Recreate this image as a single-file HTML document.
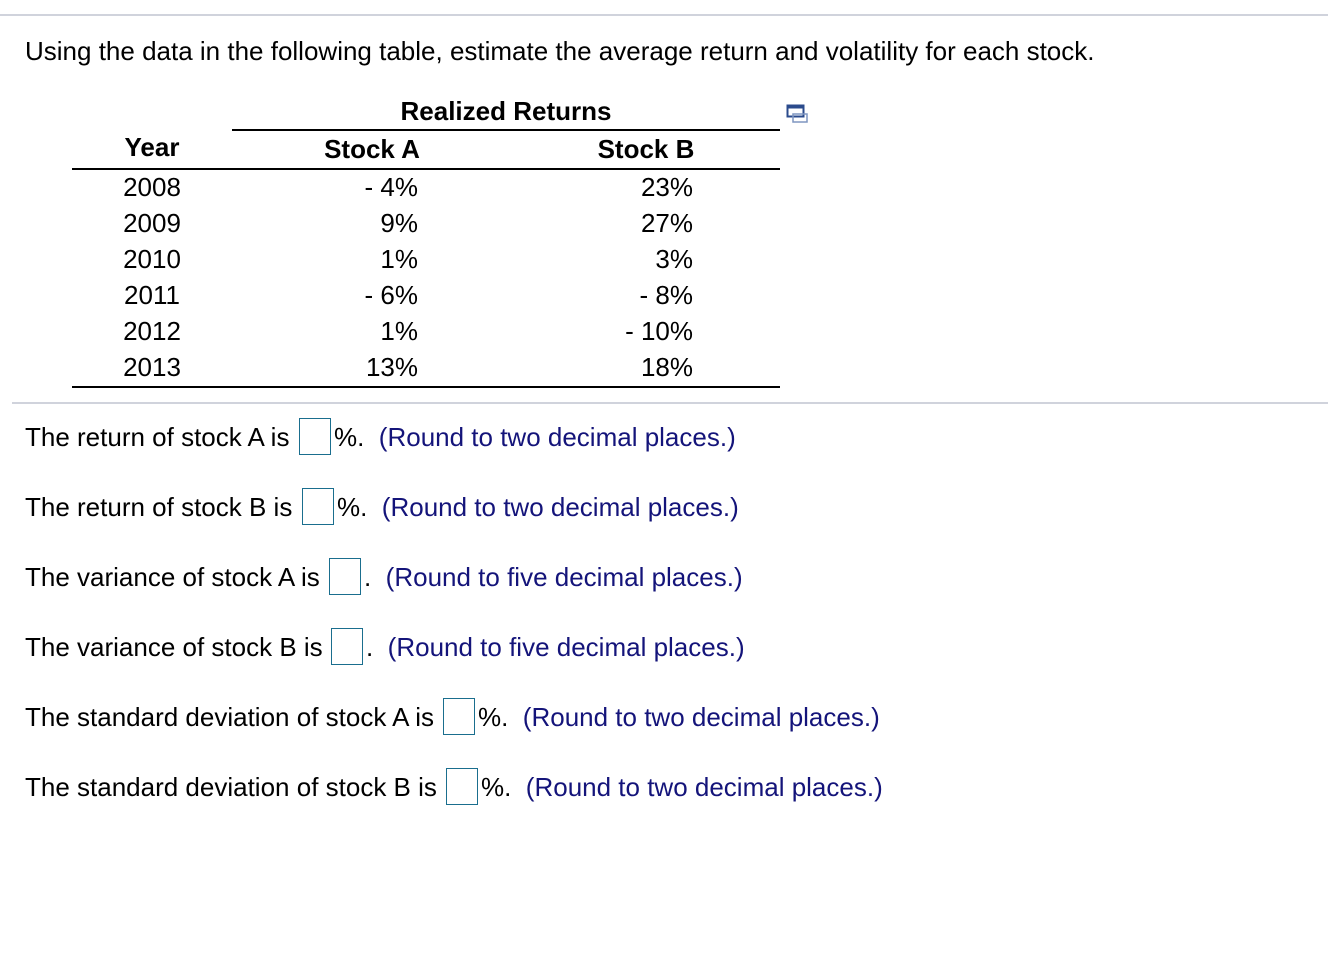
<!DOCTYPE html>
<html><head><style>
body{margin:0;width:1328px;height:970px;background:#fff;font-family:"Liberation Sans",Arial,sans-serif;color:#000;position:relative;overflow:hidden}
.a{position:absolute;white-space:nowrap;font-size:26px;line-height:28px;margin-top:-1px}
.hl{position:absolute;height:2px;background:#000}
.b{font-weight:bold}
.r{text-align:right}
.c{text-align:center}
.bx{position:absolute;width:30px;height:35px;border:1.5px solid #1a6e8e}
.n{color:#14147a}
</style></head><body>
<div style="position:absolute;left:0;top:14px;width:1328px;height:2px;background:#d0d3dc"></div>
<div class="a" style="left:25px;top:38px">Using the data in the following table, estimate the average return and volatility for each stock.</div>

<div class="a b c" style="left:356px;width:300px;top:98px">Realized Returns</div>
<div class="hl" style="left:232px;top:129px;width:548px"></div>
<div class="a b c" style="left:92px;width:120px;top:134px">Year</div>
<div class="a b c" style="left:292px;width:160px;top:136px">Stock A</div>
<div class="a b c" style="left:566px;width:160px;top:136px">Stock B</div>
<div class="hl" style="left:72px;top:168px;width:708px"></div>
<svg style="position:absolute;left:786px;top:104px" width="24" height="20"><rect x="1.5" y="1.5" width="16" height="11" fill="none" stroke="#2b4b8c" stroke-width="2"/><rect x="1.5" y="1.5" width="16" height="3" fill="#2b4b8c"/><rect x="7" y="10" width="14" height="8" fill="none" stroke="#7f95c0" stroke-width="1.5"/></svg>

<div class="a c" style="left:92px;width:120px;top:174px">2008</div>
<div class="a c" style="left:92px;width:120px;top:210px">2009</div>
<div class="a c" style="left:92px;width:120px;top:246px">2010</div>
<div class="a c" style="left:92px;width:120px;top:282px">2011</div>
<div class="a c" style="left:92px;width:120px;top:318px">2012</div>
<div class="a c" style="left:92px;width:120px;top:354px">2013</div>

<div class="a r" style="left:300px;width:118px;top:174px">- 4%</div>
<div class="a r" style="left:300px;width:118px;top:210px">9%</div>
<div class="a r" style="left:300px;width:118px;top:246px">1%</div>
<div class="a r" style="left:300px;width:118px;top:282px">- 6%</div>
<div class="a r" style="left:300px;width:118px;top:318px">1%</div>
<div class="a r" style="left:300px;width:118px;top:354px">13%</div>

<div class="a r" style="left:555px;width:138px;top:174px">23%</div>
<div class="a r" style="left:555px;width:138px;top:210px">27%</div>
<div class="a r" style="left:555px;width:138px;top:246px">3%</div>
<div class="a r" style="left:555px;width:138px;top:282px">- 8%</div>
<div class="a r" style="left:555px;width:138px;top:318px">- 10%</div>
<div class="a r" style="left:555px;width:138px;top:354px">18%</div>
<div class="hl" style="left:72px;top:386px;width:708px"></div>

<div style="position:absolute;left:12px;top:402px;width:1316px;height:2px;background:#d0d3dc"></div>

<div class="a" style="left:25px;top:424px">The return of stock A is</div>
<div class="bx" style="left:299px;top:418px"></div>
<div class="a" style="left:334px;top:424px">%.&nbsp; <span class="n">(Round to two decimal places.)</span></div>

<div class="a" style="left:25px;top:494px">The return of stock B is</div>
<div class="bx" style="left:302px;top:488px"></div>
<div class="a" style="left:337px;top:494px">%.&nbsp; <span class="n">(Round to two decimal places.)</span></div>

<div class="a" style="left:25px;top:564px">The variance of stock A is</div>
<div class="bx" style="left:329px;top:558px"></div>
<div class="a" style="left:364px;top:564px">.&nbsp; <span class="n">(Round to five decimal places.)</span></div>

<div class="a" style="left:25px;top:634px">The variance of stock B is</div>
<div class="bx" style="left:331px;top:628px"></div>
<div class="a" style="left:366px;top:634px">.&nbsp; <span class="n">(Round to five decimal places.)</span></div>

<div class="a" style="left:25px;top:704px">The standard deviation of stock A is</div>
<div class="bx" style="left:443px;top:698px"></div>
<div class="a" style="left:478px;top:704px">%.&nbsp; <span class="n">(Round to two decimal places.)</span></div>

<div class="a" style="left:25px;top:774px">The standard deviation of stock B is</div>
<div class="bx" style="left:446px;top:768px"></div>
<div class="a" style="left:481px;top:774px">%.&nbsp; <span class="n">(Round to two decimal places.)</span></div>
</body></html>
